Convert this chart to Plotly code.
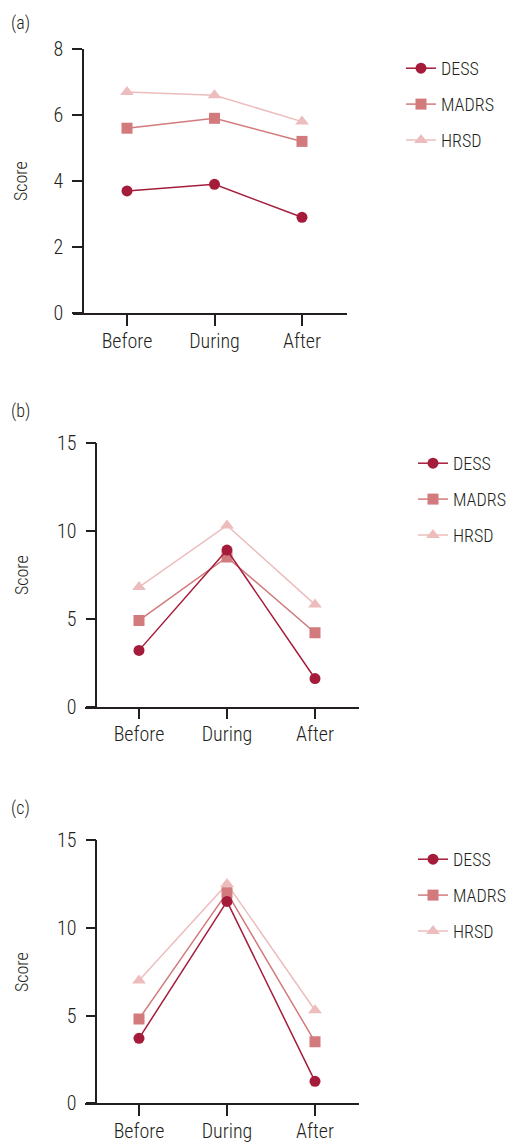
import plotly.graph_objects as go

W, H = 517, 1143
categories = ["Before", "During", "After"]
series_names = ["DESS", "MADRS", "HRSD"]

a_dess = [3.7, 3.9, 2.9]
a_madrs = [5.6, 5.9, 5.2]
a_hrsd = [6.7, 6.6, 5.8]

b_dess = [3.2, 8.9, 1.6]
b_madrs = [4.9, 8.5, 4.2]
b_hrsd = [6.8, 10.3, 5.8]

c_dess = [3.7, 11.5, 1.25]
c_madrs = [4.8, 12.0, 3.5]
c_hrsd = [7.0, 12.5, 5.3]

panel_labels = ["(a)", "(b)", "(c)"]
a_ticks = [0, 2, 4, 6, 8]
bc_ticks = [0, 5, 10, 15]

colors = {"DESS": "#A51C3B", "MADRS": "#D27A7C", "HRSD": "#EDBDBE"}
symbols = {"DESS": "circle", "MADRS": "square", "HRSD": "triangle-up"}
msize = {"DESS": 11, "MADRS": 11, "HRSD": 12}
rank = {"DESS": 1, "MADRS": 2, "HRSD": 3}

FONT = "Roboto Condensed, Liberation Sans Narrow, DejaVu Sans Condensed, Roboto, sans-serif"
TXT = "#231F20"
AX = "#231F20"

fig = go.Figure()

panels = [
    dict(data={"DESS": a_dess, "MADRS": a_madrs, "HRSD": a_hrsd}, ticks=a_ticks, yr=[0, 8],
         xpx=(73, 347), c0=127, step=87.5, yaxpx=83, ypx=(49, 313), leg_y=50, label_y=23, score_y=181),
    dict(data={"DESS": b_dess, "MADRS": b_madrs, "HRSD": b_hrsd}, ticks=bc_ticks, yr=[0, 15],
         xpx=(84.5, 359), c0=139, step=88, yaxpx=96.3, ypx=(442.7, 706.7), leg_y=445, label_y=411, score_y=575),
    dict(data={"DESS": c_dess, "MADRS": c_madrs, "HRSD": c_hrsd}, ticks=bc_ticks, yr=[0, 15],
         xpx=(84.5, 359), c0=139, step=88, yaxpx=96.3, ypx=(840, 1103.3), leg_y=841, label_y=808, score_y=972),
]

annotations = []
for i, p in enumerate(panels):
    n = "" if i == 0 else str(i + 1)
    xa, ya = "x" + n, "y" + n
    leg = "legend" + n
    for name in ["HRSD", "MADRS", "DESS"]:
        fig.add_trace(go.Scatter(
            x=[0, 1, 2], y=p["data"][name], name=name, mode="lines+markers",
            line=dict(color=colors[name], width=1.5),
            marker=dict(symbol=symbols[name], size=msize[name], color=colors[name]),
            xaxis=xa, yaxis=ya, legend=leg, legendgroup=name + n, legendrank=rank[name],
        ))
    left = (p["xpx"][0] - p["c0"]) / p["step"]
    right = (p["xpx"][1] - p["c0"]) / p["step"]
    fig.layout["xaxis" + n] = dict(
        domain=[p["xpx"][0] / W, p["xpx"][1] / W], range=[left, right],
        tickvals=[0, 1, 2], ticktext=categories, showline=True, linecolor=AX, linewidth=1.5,
        ticks="outside", ticklen=11, tickwidth=1.5, tickcolor=AX, showgrid=False, zeroline=False,
        anchor=ya, automargin=False, ticklabelstandoff=-2,
        tickfont=dict(family=FONT, size=20, color=TXT, weight=300), fixedrange=True,
    )
    fig.layout["yaxis" + n] = dict(
        domain=[1 - p["ypx"][1] / H, 1 - p["ypx"][0] / H], range=p["yr"],
        tickvals=p["ticks"], showline=True, linecolor=AX, linewidth=1.5,
        ticks="outside", ticklen=10, tickwidth=1.5, tickcolor=AX, showgrid=False, zeroline=False,
        anchor="free", position=p["yaxpx"] / W, ticklabelstandoff=5, automargin=False,
        tickfont=dict(family=FONT, size=20, color=TXT, weight=300), fixedrange=True,
    )
    fig.layout[leg] = dict(
        x=(p["xpx"][1] + 54) / W, xanchor="left", y=1 - p["leg_y"] / H, yanchor="top",
        traceorder="grouped", tracegroupgap=9.5, bgcolor="rgba(0,0,0,0)",
        font=dict(family=FONT, size=18, color=TXT, weight=300), itemclick=False, itemdoubleclick=False,
    )
    annotations.append(dict(text=panel_labels[i], x=9 / W, y=1 - p["label_y"] / H, xref="paper", yref="paper",
                            xanchor="left", yanchor="middle", showarrow=False,
                            font=dict(family=FONT, size=18, color=TXT, weight=300)))
    annotations.append(dict(text="Score", x=21 / W, y=1 - p["score_y"] / H, xref="paper", yref="paper",
                            xanchor="center", yanchor="middle", showarrow=False, textangle=-90,
                            font=dict(family=FONT, size=18, color=TXT, weight=300)))

fig.update_layout(
    width=W, height=H, margin=dict(l=0, r=0, t=0, b=0, autoexpand=False),
    paper_bgcolor="white", plot_bgcolor="white", annotations=annotations,
    showlegend=True,
)

fig.write_html("out.html", config={"displayModeBar": False},
               post_script="document.body.style.margin='0';document.body.style.overflow='hidden';")
